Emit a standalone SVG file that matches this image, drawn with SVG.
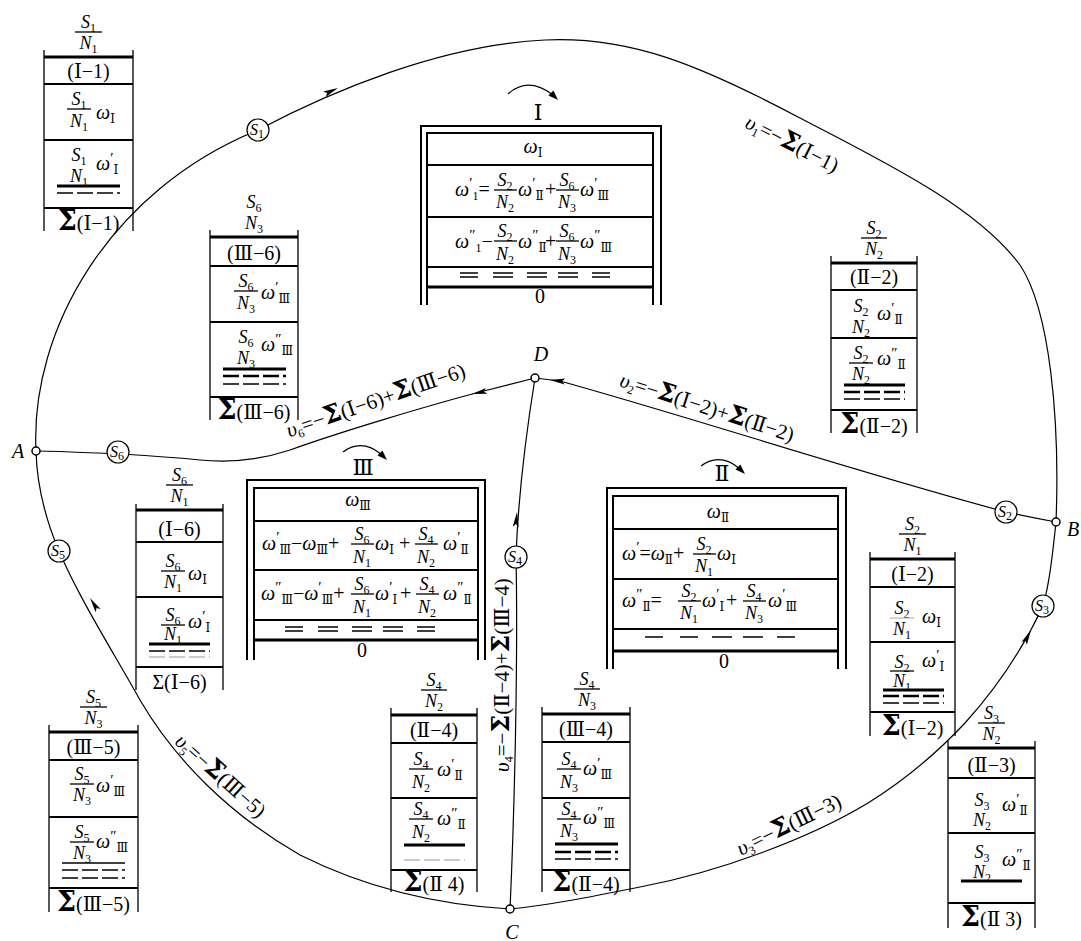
<svg xmlns="http://www.w3.org/2000/svg" width="1081" height="941" viewBox="0 0 1081 941">
<defs>
<style>
.f{font-family:"Liberation Serif","DejaVu Serif","Times New Roman",serif;fill:#000}
.it{font-style:italic}
.r{font-style:normal}
.t15{font-size:16px}
.t17{font-size:18px}
.t18{font-size:20px}
.t19{font-size:20px}
.t20{font-size:21px}
.t22{font-size:22px}
.sb{font-size:12px;font-style:normal}
.pr{font-size:15px;font-style:normal}
.c{text-anchor:middle}
.sg{font-size:27px;font-weight:bold;font-style:normal;font-family:"DejaVu Serif","Liberation Serif",serif}
.sm{font-size:25px;font-weight:bold;font-style:normal;font-family:"DejaVu Serif","Liberation Serif",serif}
.ln{stroke:#000;fill:none;stroke-width:1.3}
.w2{stroke-width:2}
.w3{stroke-width:3}
.ds{stroke-dasharray:16 4;stroke-width:1.3}
.dk{stroke-dasharray:16 4;stroke-width:2.5}
.lt{stroke:#bbb}
.con{stroke:#000;fill:none;stroke-width:1.2}
.node{fill:#fff;stroke:#000;stroke-width:1.5}
.sc{fill:#fff;stroke:#000;stroke-width:1.2}
</style>
<path id="ah" d="M0,0 L-15,-3 L-12,0 L-15,3 Z"/>
<path id="ah2" d="M0,0 L-10,-3.5 L-10,3.5 Z"/>
</defs>
<rect width="1081" height="941" fill="#fff"/>

<g id="connectors">
<path class="con" d="M36,451 C30,330 110,190 258,130 C330,92 440,45 545,40 C630,36 700,65 800,118 C880,160 975,205 1020,265 C1050,310 1060,420 1056,522"/>
<path class="con" d="M1056,522 C1052,560 1049,585 1043,606 C1020,655 995,690 965,723 C935,755 905,780 868,803 C810,838 720,872 640,887 C590,897 550,905 510,909"/>
<path class="con" d="M510,909 C440,905 370,890 300,855 C230,815 175,760 140,700 C115,655 80,600 59,551 C48,525 37,490 36,451"/>
<path class="con" d="M36,451 C80,452 150,455 200,460 C230,463 260,460 290,450 C340,432 430,405 480,392 L535,378"/>
<path class="con" d="M1056,522 C1040,519 1020,515 1006,512 C850,470 700,420 560,381 L535,378"/>
<path class="con" d="M535,378 C525,440 518,500 516,557 C518,650 515,800 510,909"/>
<use href="#ah" transform="translate(338,88) rotate(-25)"/>
<use href="#ah" transform="translate(472,394) rotate(168)"/>
<use href="#ah" transform="translate(550,380) rotate(186)"/>
<use href="#ah" transform="translate(517,512) rotate(-85)"/>
<use href="#ah" transform="translate(1031,630) rotate(-63)"/>
<use href="#ah" transform="translate(90,598) rotate(-123)"/>
<path class="con" d="M508,94 Q528,76 553,95"/>
<use href="#ah2" transform="translate(558,100) rotate(45)"/>
<path class="con" d="M343,452 Q362,438 382,455"/>
<use href="#ah2" transform="translate(387,460) rotate(45)"/>
<path class="con" d="M701,466 Q720,452 740,469"/>
<use href="#ah2" transform="translate(745,474) rotate(45)"/>
</g>

<g id="edge-labels">
<text class="f t20 c" transform="translate(789,150) rotate(27)"><tspan class="it">υ</tspan><tspan class="sb" dy="4">1</tspan><tspan dy="-4">=−</tspan><tspan class="sm">Σ</tspan>(Ⅰ−1)</text>
<text class="f t20 c" transform="translate(378,407) rotate(-19)"><tspan class="it">υ</tspan><tspan class="sb" dy="4">6</tspan><tspan dy="-4">=−</tspan><tspan class="sm">Σ</tspan>(Ⅰ−6)+<tspan class="sm">Σ</tspan>(Ⅲ−6)</text>
<text class="f t20 c" transform="translate(705,414) rotate(18)"><tspan class="it">υ</tspan><tspan class="sb" dy="4">2</tspan><tspan dy="-4">=−</tspan><tspan class="sm">Σ</tspan>(Ⅰ−2)+<tspan class="sm">Σ</tspan>(Ⅱ−2)</text>
<text class="f t20 c" transform="translate(509,675) rotate(-90)"><tspan class="it">υ</tspan><tspan class="sb" dy="4">4</tspan><tspan dy="-4">=−</tspan><tspan class="sm">Σ</tspan>(Ⅱ−4)+<tspan class="sm">Σ</tspan>(Ⅲ−4)</text>
<text class="f t20 c" transform="translate(792,831) rotate(-26)"><tspan class="it">υ</tspan><tspan class="sb" dy="4">3</tspan><tspan dy="-4">=−</tspan><tspan class="sm">Σ</tspan>(Ⅲ−3)</text>
<text class="f t20 c" transform="translate(216,781) rotate(42)"><tspan class="it">υ</tspan><tspan class="sb" dy="4">5</tspan><tspan dy="-4">=−</tspan><tspan class="sm">Σ</tspan>(Ⅲ−5)</text>
</g>

<g id="nodes">
<circle class="node" cx="36" cy="451" r="4"/>
<circle class="node" cx="1056" cy="522" r="4"/>
<circle class="node" cx="510" cy="909" r="4"/>
<circle class="node" cx="535" cy="378" r="4"/>
<text class="f t18 it c" x="18" y="458">A</text>
<text class="f t18 it c" x="1073" y="536">B</text>
<text class="f t18 it c" x="512" y="939">C</text>
<text class="f t18 it c" x="541" y="361">D</text>
</g>

<g id="S1"><circle class="sc" cx="258" cy="130" r="11"/><text class="f t15 it c" x="257" y="135">S<tspan class="sb" dy="3">1</tspan></text></g>
<g id="S2"><circle class="sc" cx="1006" cy="512" r="11"/><text class="f t15 it c" x="1005" y="517">S<tspan class="sb" dy="3">2</tspan></text></g>
<g id="S3"><circle class="sc" cx="1043" cy="606" r="11"/><text class="f t15 it c" x="1042" y="611">S<tspan class="sb" dy="3">3</tspan></text></g>
<g id="S4"><circle class="sc" cx="516" cy="557" r="11"/><text class="f t15 it c" x="515" y="562">S<tspan class="sb" dy="3">4</tspan></text></g>
<g id="S5"><circle class="sc" cx="59" cy="551" r="11"/><text class="f t15 it c" x="58" y="556">S<tspan class="sb" dy="3">5</tspan></text></g>
<g id="S6"><circle class="sc" cx="118" cy="452" r="11"/><text class="f t15 it c" x="117" y="457">S<tspan class="sb" dy="3">6</tspan></text></g>

<!-- small tables -->
<g id="t-I-1" transform="translate(44,57)">
<text class="f t17 it c" x="44.5" y="-29">S<tspan class="sb" dy="4">1</tspan></text>
<path class="ln" d="M31,-25H58"/>
<text class="f t17 it c" x="44.5" y="-8">N<tspan class="sb" dy="4">1</tspan></text>
<path class="ln" d="M0,-7V174M89,-7V174"/>
<path class="ln w3" d="M0,0H89"/>
<path class="ln w2" d="M0,27H89M0,83H89M0,151H89"/>
<text class="f t18 c" x="44.5" y="21">(Ⅰ−1)</text>
<text class="f t17 it c" x="35" y="48">S<tspan class="sb" dy="4">1</tspan></text>
<path class="ln" d="M23,52H47"/>
<text class="f t17 it c" x="35" y="70">N<tspan class="sb" dy="4">1</tspan></text>
<text class="f t18 it" x="52" y="62">ω<tspan class="sb" dy="4">Ⅰ</tspan></text>
<text class="f t17 it c" x="35" y="104">S<tspan class="sb" dy="4">1</tspan></text>
<text class="f t17 it c" x="35" y="125">N<tspan class="sb" dy="4">1</tspan></text>
<text class="f t18 it" x="52" y="113">ω<tspan class="pr" dy="-7">′</tspan><tspan class="sb" dy="11">Ⅰ</tspan></text>
<path class="ln w3" d="M13,129H76"/>
<path class="ln ds" d="M13,136H76"/>
<text class="f t18 c" x="44.5" y="173"><tspan class="sg">Σ</tspan>(Ⅰ−1)</text>
</g>

<g id="t-III-6" transform="translate(210,237)">
<text class="f t17 it c" x="44" y="-29">S<tspan class="sb" dy="4">6</tspan></text>
<text class="f t17 it c" x="44" y="-8">N<tspan class="sb" dy="4">3</tspan></text>
<path class="ln" d="M0,-7V183M88,-7V183"/>
<path class="ln w3" d="M0,0H88"/>
<path class="ln w2" d="M0,29H88M0,85H88M0,160H88"/>
<text class="f t18 c" x="44" y="23">(Ⅲ−6)</text>
<text class="f t17 it c" x="36" y="50">S<tspan class="sb" dy="4">6</tspan></text>
<path class="ln" d="M24,54H48"/>
<text class="f t17 it c" x="36" y="72">N<tspan class="sb" dy="4">3</tspan></text>
<text class="f t18 it" x="51" y="62">ω<tspan class="pr" dy="-7">′</tspan><tspan class="sb" dy="11">Ⅲ</tspan></text>
<text class="f t17 it c" x="36" y="106">S<tspan class="sb" dy="4">6</tspan></text>
<text class="f t17 it c" x="36" y="127">N<tspan class="sb" dy="4">3</tspan></text>
<text class="f t18 it" x="51" y="114">ω<tspan class="pr" dy="-7">″</tspan><tspan class="sb" dy="11">Ⅲ</tspan></text>
<path class="ln w3" d="M13,132H76"/>
<path class="ln dk" d="M13,139H76"/>
<path class="ln ds" d="M13,147H76"/>
<text class="f t18 c" x="44" y="182"><tspan class="sg">Σ</tspan>(Ⅲ−6)</text>
</g>

<g id="t-II-2" transform="translate(831,263)">
<text class="f t17 it c" x="43" y="-29">S<tspan class="sb" dy="4">2</tspan></text>
<path class="ln" d="M30,-25H56"/>
<text class="f t17 it c" x="43" y="-8">N<tspan class="sb" dy="4">2</tspan></text>
<path class="ln" d="M0,-7V170M86,-7V170"/>
<path class="ln w3" d="M0,0H86"/>
<path class="ln w2" d="M0,27H86M0,75H86M0,147H86"/>
<text class="f t18 c" x="43" y="21">(Ⅱ−2)</text>
<text class="f t17 it c" x="30" y="49">S<tspan class="sb" dy="4">2</tspan></text>
<text class="f t17 it c" x="30" y="70">N<tspan class="sb" dy="4">2</tspan></text>
<text class="f t18 it" x="46" y="57">ω<tspan class="pr" dy="-7">′</tspan><tspan class="sb" dy="11">Ⅱ</tspan></text>
<text class="f t17 it c" x="30" y="96">S<tspan class="sb" dy="4">2</tspan></text>
<path class="ln" d="M18,100H42"/>
<text class="f t17 it c" x="30" y="117">N<tspan class="sb" dy="4">2</tspan></text>
<text class="f t18 it" x="46" y="102">ω<tspan class="pr" dy="-7">″</tspan><tspan class="sb" dy="11">Ⅱ</tspan></text>
<path class="ln w3" d="M13,122H74"/>
<path class="ln dk" d="M13,129H74"/>
<path class="ln ds" d="M13,136H74"/>
<text class="f t18 c" x="43" y="170"><tspan class="sg">Σ</tspan>(Ⅱ−2)</text>
</g>

<g id="t-I-6" transform="translate(136,510)">
<text class="f t17 it c" x="43.5" y="-29">S<tspan class="sb" dy="4">6</tspan></text>
<path class="ln" d="M30,-25H57"/>
<text class="f t17 it c" x="43.5" y="-8">N<tspan class="sb" dy="4">1</tspan></text>
<path class="ln" d="M0,-6V180M87,-6V180"/>
<path class="ln w3" d="M0,0H87"/>
<path class="ln w2" d="M0,32H87M0,87H87M0,157H87"/>
<text class="f t18 c" x="43.5" y="26">(Ⅰ−6)</text>
<text class="f t17 it c" x="37" y="57">S<tspan class="sb" dy="4">6</tspan></text>
<path class="ln" d="M25,61H49"/>
<text class="f t17 it c" x="37" y="78">N<tspan class="sb" dy="4">1</tspan></text>
<text class="f t18 it" x="52" y="70">ω<tspan class="sb" dy="4">Ⅰ</tspan></text>
<text class="f t17 it c" x="37" y="111">S<tspan class="sb" dy="4">6</tspan></text>
<path class="ln" d="M25,115H49"/>
<text class="f t17 it c" x="37" y="130">N<tspan class="sb" dy="4">1</tspan></text>
<text class="f t18 it" x="52" y="118">ω<tspan class="pr" dy="-7">′</tspan><tspan class="sb" dy="11">Ⅰ</tspan></text>
<path class="ln w3" d="M13,134H74"/>
<path class="ln ds" d="M13,141H74"/>
<path class="ln ds lt" d="M13,147H74"/>
<text class="f t18 c" x="43.5" y="179">Σ(Ⅰ−6)</text>
</g>

<g id="t-I-2" transform="translate(870,559)">
<text class="f t17 it c" x="42.5" y="-29">S<tspan class="sb" dy="4">2</tspan></text>
<path class="ln" d="M29,-25H56"/>
<text class="f t17 it c" x="42.5" y="-8">N<tspan class="sb" dy="4">1</tspan></text>
<path class="ln" d="M0,-7V177M85,-7V177"/>
<path class="ln w3" d="M0,0H85"/>
<path class="ln w2" d="M0,28H85M0,83H85M0,153H85"/>
<text class="f t18 c" x="42.5" y="22">(Ⅰ−2)</text>
<text class="f t17 it c" x="32" y="55">S<tspan class="sb" dy="4">2</tspan></text>
<path class="ln lt" d="M20,59H44"/>
<text class="f t17 it c" x="32" y="76">N<tspan class="sb" dy="4">1</tspan></text>
<text class="f t18 it" x="52" y="64">ω<tspan class="sb" dy="4">Ⅰ</tspan></text>
<text class="f t17 it c" x="32" y="109">S<tspan class="sb" dy="4">2</tspan></text>
<path class="ln" d="M20,112H44"/>
<text class="f t17 it c" x="32" y="128">N<tspan class="sb" dy="4">1</tspan></text>
<text class="f t18 it" x="52" y="108">ω<tspan class="pr" dy="-7">′</tspan><tspan class="sb" dy="11">Ⅰ</tspan></text>
<path class="ln w3" d="M13,131H74"/>
<path class="ln dk" d="M13,137H74"/>
<path class="ln ds" d="M13,144H74"/>
<text class="f t18 c" x="42.5" y="176"><tspan class="sg">Σ</tspan>(Ⅰ−2)</text>
</g>

<g id="t-II-3" transform="translate(948,748)">
<text class="f t17 it c" x="43.5" y="-29">S<tspan class="sb" dy="4">3</tspan></text>
<path class="ln" d="M30,-25H57"/>
<text class="f t17 it c" x="43.5" y="-8">N<tspan class="sb" dy="4">2</tspan></text>
<path class="ln" d="M0,-7V180M87,-7V180"/>
<path class="ln w3" d="M0,0H87"/>
<path class="ln w2" d="M0,30H87M0,85H87M0,155H87"/>
<text class="f t18 c" x="43.5" y="24">(Ⅱ−3)</text>
<text class="f t17 it c" x="34" y="58">S<tspan class="sb" dy="4">3</tspan></text>
<text class="f t17 it c" x="34" y="78">N<tspan class="sb" dy="4">2</tspan></text>
<text class="f t18 it" x="54" y="63">ω<tspan class="pr" dy="-7">′</tspan><tspan class="sb" dy="11">Ⅱ</tspan></text>
<text class="f t17 it c" x="34" y="110">S<tspan class="sb" dy="4">3</tspan></text>
<text class="f t17 it c" x="34" y="130">N<tspan class="sb" dy="4">2</tspan></text>
<text class="f t18 it" x="54" y="118">ω<tspan class="pr" dy="-7">″</tspan><tspan class="sb" dy="11">Ⅱ</tspan></text>
<path class="ln w3" d="M13,133H74"/>
<text class="f t18 c" x="43.5" y="178"><tspan class="sg">Σ</tspan>(Ⅱ 3)</text>
</g>

<g id="t-III-5" transform="translate(49,732)">
<text class="f t17 it c" x="44.5" y="-29">S<tspan class="sb" dy="4">5</tspan></text>
<path class="ln" d="M31,-25H58"/>
<text class="f t17 it c" x="44.5" y="-8">N<tspan class="sb" dy="4">3</tspan></text>
<path class="ln" d="M0,-7V180M89,-7V180"/>
<path class="ln w3" d="M0,0H89"/>
<path class="ln w2" d="M0,28H89M0,85H89M0,156H89"/>
<text class="f t18 c" x="44.5" y="22">(Ⅲ−5)</text>
<text class="f t17 it c" x="33" y="48">S<tspan class="sb" dy="4">5</tspan></text>
<path class="ln" d="M21,52H45"/>
<text class="f t17 it c" x="33" y="69">N<tspan class="sb" dy="4">3</tspan></text>
<text class="f t18 it" x="47" y="60">ω<tspan class="pr" dy="-7">′</tspan><tspan class="sb" dy="11">Ⅲ</tspan></text>
<text class="f t17 it c" x="33" y="106">S<tspan class="sb" dy="4">5</tspan></text>
<path class="ln" d="M21,110H45"/>
<text class="f t17 it c" x="33" y="127">N<tspan class="sb" dy="4">3</tspan></text>
<text class="f t18 it" x="47" y="116">ω<tspan class="pr" dy="-7">″</tspan><tspan class="sb" dy="11">Ⅲ</tspan></text>
<path class="ln" d="M13,131H76"/>
<path class="ln ds" d="M13,138H76"/>
<path class="ln ds" d="M13,146H76"/>
<text class="f t18 c" x="44.5" y="179"><tspan class="sg">Σ</tspan>(Ⅲ−5)</text>
</g>

<g id="t-II-4" transform="translate(391,715)">
<text class="f t17 it c" x="43" y="-29">S<tspan class="sb" dy="4">4</tspan></text>
<path class="ln" d="M30,-25H56"/>
<text class="f t17 it c" x="43" y="-8">N<tspan class="sb" dy="4">2</tspan></text>
<path class="ln" d="M0,-7V177M86,-7V177"/>
<path class="ln w3" d="M0,0H86"/>
<path class="ln w2" d="M0,28H86M0,83H86M0,155H86"/>
<text class="f t18 c" x="43" y="22">(Ⅱ−4)</text>
<text class="f t17 it c" x="30" y="50">S<tspan class="sb" dy="4">4</tspan></text>
<path class="ln" d="M18,54H42"/>
<text class="f t17 it c" x="30" y="73">N<tspan class="sb" dy="4">2</tspan></text>
<text class="f t18 it" x="46" y="61">ω<tspan class="pr" dy="-7">′</tspan><tspan class="sb" dy="11">Ⅱ</tspan></text>
<text class="f t17 it c" x="30" y="100">S<tspan class="sb" dy="4">4</tspan></text>
<path class="ln" d="M18,104H42"/>
<text class="f t17 it c" x="30" y="123">N<tspan class="sb" dy="4">2</tspan></text>
<text class="f t18 it" x="46" y="110">ω<tspan class="pr" dy="-7">″</tspan><tspan class="sb" dy="11">Ⅱ</tspan></text>
<path class="ln w3" d="M13,130H74"/>
<path class="ln ds lt" d="M13,145H74"/>
<text class="f t18 c" x="43" y="176"><tspan class="sg">Σ</tspan>(Ⅱ 4)</text>
</g>

<g id="t-III-4" transform="translate(542,714)">
<text class="f t17 it c" x="45" y="-29">S<tspan class="sb" dy="4">4</tspan></text>
<path class="ln" d="M32,-25H58"/>
<text class="f t17 it c" x="45" y="-8">N<tspan class="sb" dy="4">3</tspan></text>
<path class="ln" d="M0,-7V178M88,-7V178"/>
<path class="ln w3" d="M0,0H88"/>
<path class="ln w2" d="M0,28H88M0,84H88M0,156H88"/>
<text class="f t18 c" x="44" y="22">(Ⅲ−4)</text>
<text class="f t17 it c" x="27" y="51">S<tspan class="sb" dy="4">4</tspan></text>
<path class="ln" d="M15,55H39"/>
<text class="f t17 it c" x="27" y="74">N<tspan class="sb" dy="4">3</tspan></text>
<text class="f t18 it" x="41" y="61">ω<tspan class="pr" dy="-7">′</tspan><tspan class="sb" dy="11">Ⅲ</tspan></text>
<text class="f t17 it c" x="27" y="101">S<tspan class="sb" dy="4">4</tspan></text>
<path class="ln" d="M15,105H39"/>
<text class="f t17 it c" x="27" y="123">N<tspan class="sb" dy="4">3</tspan></text>
<text class="f t18 it" x="41" y="110">ω<tspan class="pr" dy="-7">″</tspan><tspan class="sb" dy="11">Ⅲ</tspan></text>
<path class="ln w3" d="M13,130H76"/>
<path class="ln dk" d="M13,138H76"/>
<path class="ln ds" d="M13,145H76"/>
<text class="f t18 c" x="44" y="177"><tspan class="sg">Σ</tspan>(Ⅱ−4)</text>
</g>

<!-- big tables -->
<g id="t-I">
<text class="f t22 c" x="538" y="120">Ⅰ</text>
<path class="ln w2" d="M421,305V126H661V305"/>
<path class="ln w2" d="M427,305V133H653V305"/>
<path class="ln w2" d="M427,165H653M427,217H653M427,267H653"/>
<path class="ln w3" d="M427,287H653"/>
<text class="f t19 it c" x="533" y="153">ω<tspan class="sb" dy="4">Ⅰ</tspan></text>
<text class="f t19 it" x="455" y="196">ω<tspan class="pr" dy="-8">′</tspan><tspan class="sb" dy="12">1</tspan><tspan class="r" dy="-4">=</tspan></text>
<text class="f t17 it c" x="505" y="186">S<tspan class="sb" dy="4">2</tspan></text>
<path class="ln" d="M494,190H517"/>
<text class="f t17 it c" x="505" y="208">N<tspan class="sb" dy="4">2</tspan></text>
<text class="f t19 it" x="518" y="196">ω<tspan class="pr" dy="-8">′</tspan><tspan class="sb" dy="12">Ⅱ</tspan></text>
<text class="f t19" x="545" y="196">+</text>
<text class="f t17 it c" x="567" y="186">S<tspan class="sb" dy="4">6</tspan></text>
<path class="ln" d="M556,190H579"/>
<text class="f t17 it c" x="567" y="208">N<tspan class="sb" dy="4">3</tspan></text>
<text class="f t19 it" x="580" y="196">ω<tspan class="pr" dy="-8">′</tspan><tspan class="sb" dy="12">Ⅲ</tspan></text>
<text class="f t19 it" x="455" y="248">ω<tspan class="pr" dy="-8">″</tspan><tspan class="sb" dy="12">1</tspan><tspan class="r" dy="-4">−</tspan></text>
<text class="f t17 it c" x="505" y="237">S<tspan class="sb" dy="4">2</tspan></text>
<path class="ln" d="M494,241H517"/>
<text class="f t17 it c" x="505" y="260">N<tspan class="sb" dy="4">2</tspan></text>
<text class="f t19 it" x="518" y="248">ω<tspan class="pr" dy="-8">″</tspan><tspan class="sb" dy="12">Ⅱ</tspan></text>
<text class="f t19" x="545" y="248">+</text>
<text class="f t17 it c" x="567" y="237">S<tspan class="sb" dy="4">6</tspan></text>
<path class="ln" d="M556,241H579"/>
<text class="f t17 it c" x="567" y="260">N<tspan class="sb" dy="4">3</tspan></text>
<text class="f t19 it" x="580" y="248">ω<tspan class="pr" dy="-8">″</tspan><tspan class="sb" dy="12">Ⅲ</tspan></text>
<path class="ln" d="M460,273H478M493,273H513M527,273H547M558,273H578M592,273H610M460,277H478M493,277H513M527,277H547M558,277H578M592,277H610"/>
<text class="f t18 c" x="540" y="303">0</text>
</g>

<g id="t-III">
<text class="f t22 c" x="363" y="475">Ⅲ</text>
<path class="ln w2" d="M247,660V480H485V660"/>
<path class="ln w2" d="M254,660V488H478V660"/>
<path class="ln w2" d="M254,521H478M254,570H478M254,620H478"/>
<path class="ln w3" d="M254,640H478"/>
<text class="f t19 it c" x="358" y="506">ω<tspan class="sb" dy="4">Ⅲ</tspan></text>
<text class="f t19 it" x="262" y="550">ω<tspan class="pr" dy="-8">′</tspan><tspan class="sb" dy="12">Ⅲ</tspan><tspan class="r" dy="-4">−</tspan>ω<tspan class="sb" dy="4">Ⅲ</tspan><tspan class="r" dy="-4">+</tspan></text>
<text class="f t17 it c" x="362" y="540">S<tspan class="sb" dy="4">6</tspan></text>
<path class="ln" d="M351,544H374"/>
<text class="f t17 it c" x="362" y="563">N<tspan class="sb" dy="4">1</tspan></text>
<text class="f t19 it" x="375" y="550">ω<tspan class="sb" dy="4">Ⅰ</tspan></text>
<text class="f t19" x="399" y="550">+</text>
<text class="f t17 it c" x="426" y="540">S<tspan class="sb" dy="4">4</tspan></text>
<path class="ln" d="M415,544H438"/>
<text class="f t17 it c" x="426" y="563">N<tspan class="sb" dy="4">2</tspan></text>
<text class="f t19 it" x="443" y="550">ω<tspan class="pr" dy="-8">′</tspan><tspan class="sb" dy="12">Ⅱ</tspan></text>
<text class="f t19 it" x="261" y="600">ω<tspan class="pr" dy="-8">″</tspan><tspan class="sb" dy="12">Ⅲ</tspan><tspan class="r" dy="-4">−</tspan>ω<tspan class="pr" dy="-8">′</tspan><tspan class="sb" dy="12">Ⅲ</tspan><tspan class="r" dy="-4">+</tspan></text>
<text class="f t17 it c" x="362" y="590">S<tspan class="sb" dy="4">6</tspan></text>
<path class="ln" d="M351,594H374"/>
<text class="f t17 it c" x="362" y="613">N<tspan class="sb" dy="4">1</tspan></text>
<text class="f t19 it" x="375" y="600">ω<tspan class="pr" dy="-8">′</tspan><tspan class="sb" dy="12">Ⅰ</tspan></text>
<text class="f t19" x="400" y="600">+</text>
<text class="f t17 it c" x="427" y="590">S<tspan class="sb" dy="4">4</tspan></text>
<path class="ln" d="M416,594H439"/>
<text class="f t17 it c" x="427" y="613">N<tspan class="sb" dy="4">2</tspan></text>
<text class="f t19 it" x="443" y="600">ω<tspan class="pr" dy="-8">″</tspan><tspan class="sb" dy="12">Ⅱ</tspan></text>
<path class="ln" d="M285,627H303M318,627H338M352,627H372M383,627H403M417,627H435M285,631H303M318,631H338M352,631H372M383,631H403M417,631H435"/>
<text class="f t18 c" x="362" y="657">0</text>
</g>

<g id="t-II">
<text class="f t22 c" x="722" y="481">Ⅱ</text>
<path class="ln w2" d="M607,669V488H846V669"/>
<path class="ln w2" d="M613,669V496H838V669"/>
<path class="ln w2" d="M613,529H838M613,579H838M613,629H838"/>
<path class="ln w3" d="M613,651H838"/>
<text class="f t19 it c" x="718" y="518">ω<tspan class="sb" dy="4">Ⅱ</tspan></text>
<text class="f t19 it" x="622" y="560">ω<tspan class="pr" dy="-8">′</tspan><tspan class="r" dy="8">=</tspan>ω<tspan class="sb" dy="4">Ⅱ</tspan><tspan class="r" dy="-4">+</tspan></text>
<text class="f t17 it c" x="704" y="550">S<tspan class="sb" dy="4">2</tspan></text>
<path class="ln" d="M693,554H716"/>
<text class="f t17 it c" x="704" y="572">N<tspan class="sb" dy="4">1</tspan></text>
<text class="f t19 it" x="717" y="560">ω<tspan class="sb" dy="4">Ⅰ</tspan></text>
<text class="f t19 it" x="622" y="607">ω<tspan class="pr" dy="-8">″</tspan><tspan class="sb" dy="12">Ⅱ</tspan><tspan class="r" dy="-4">=</tspan></text>
<text class="f t17 it c" x="689" y="597">S<tspan class="sb" dy="4">2</tspan></text>
<path class="ln" d="M678,601H701"/>
<text class="f t17 it c" x="689" y="619">N<tspan class="sb" dy="4">1</tspan></text>
<text class="f t19 it" x="702" y="607">ω<tspan class="pr" dy="-8">′</tspan><tspan class="sb" dy="12">Ⅰ</tspan></text>
<text class="f t19" x="726" y="607">+</text>
<text class="f t17 it c" x="754" y="597">S<tspan class="sb" dy="4">4</tspan></text>
<path class="ln" d="M743,601H766"/>
<text class="f t17 it c" x="754" y="619">N<tspan class="sb" dy="4">3</tspan></text>
<text class="f t19 it" x="768" y="607">ω<tspan class="pr" dy="-8">′</tspan><tspan class="sb" dy="12">Ⅲ</tspan></text>
<path class="ln" d="M645,637H663M680,637H698M712,637H732M743,637H763M777,637H795"/>
<text class="f t18 c" x="724" y="668">0</text>
</g>
</svg>
